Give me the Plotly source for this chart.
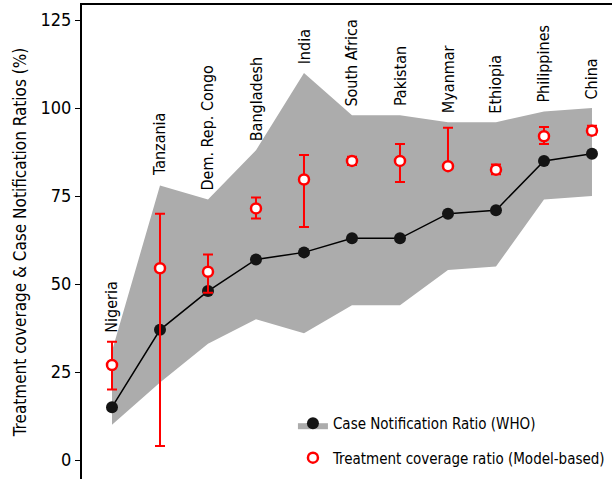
import plotly.graph_objects as go

countries = ["Nigeria", "Tanzania", "Dem. Rep. Congo", "Bangladesh", "India", "South Africa",
             "Pakistan", "Myanmar", "Ethiopia", "Philippines", "China"]
cnr = [15, 37, 48, 57, 59, 63, 63, 70, 71, 85, 87]
cnr_low = [10, 22, 33, 40, 36, 44, 44, 54, 55, 74, 75]
cnr_high = [31, 78, 74, 88, 110, 98, 98, 96, 96, 99, 100]
tc = [27, 54.5, 53.5, 71.5, 79.7, 85, 85, 83.5, 82.5, 92, 93.6]
tc_low = [20, 4, 47.5, 68.6, 66.2, 83.8, 79, 83.5, 81.2, 89.8, 92.5]
tc_high = [33.6, 70, 58.4, 74.6, 86.7, 86.2, 89.8, 94.4, 84, 94.6, 95]
yticks = [0, 25, 50, 75, 100, 125]

FONT = "DejaVu Sans Condensed, Liberation Sans Narrow, Roboto Condensed, Lato, sans-serif"
GRAY = "rgb(172,172,172)"
RED = "rgb(255,0,0)"

x = list(range(len(countries)))

fig = go.Figure()
fig.add_trace(go.Scatter(x=x, y=cnr_low, mode="lines", line=dict(width=0, color=GRAY),
                         showlegend=False, hoverinfo="skip"))
fig.add_trace(go.Scatter(x=x, y=cnr_high, mode="lines", line=dict(width=0, color=GRAY),
                         fill="tonexty", fillcolor=GRAY, showlegend=False, hoverinfo="skip"))
fig.add_trace(go.Scatter(x=x, y=cnr, mode="lines+markers",
                         line=dict(color="black", width=1.5),
                         marker=dict(color="rgb(20,20,20)", size=12),
                         showlegend=False))
# legend proxy for the CNR series
fig.add_trace(go.Scatter(x=[None, None, None], y=[None, None, None], mode="markers",
                         fill="toself", fillcolor=GRAY, line=dict(width=0, color=GRAY),
                         marker=dict(color="rgb(20,20,20)", size=12),
                         legendgroup="a", name="Case Notification Ratio (WHO)"))
fig.add_trace(go.Scatter(
    x=x, y=tc, mode="markers",
    marker=dict(color="white", size=10, line=dict(color=RED, width=2.5)),
    error_y=dict(type="data", symmetric=False,
                 array=[h - v for h, v in zip(tc_high, tc)],
                 arrayminus=[v - l for v, l in zip(tc, tc_low)],
                 color=RED, thickness=2, width=5),
    legendgroup="b", name="Treatment coverage ratio (Model-based)"))

for i, c in enumerate(countries):
    fig.add_annotation(x=x[i], y=max(cnr_high[i], tc_high[i]) + 2, text=c, textangle=-90,
                       showarrow=False, xanchor="center", yanchor="bottom",
                       font=dict(family=FONT, size=16, color="black"))

fig.update_layout(
    width=612, height=479,
    margin=dict(l=82, r=0, t=5, b=0, autoexpand=False),
    plot_bgcolor="white", paper_bgcolor="white",
    font=dict(family=FONT, size=16, color="black"),
    showlegend=True,
    legend=dict(x=0.398, y=0.152, xanchor="left", yanchor="top", traceorder="grouped",
                font=dict(family=FONT, size=15), bgcolor="rgba(0,0,0,0)",
                tracegroupgap=12),
    xaxis=dict(range=[-0.625, 10.417], showgrid=False, zeroline=False,
               showticklabels=False, ticks="", side="top",
               showline=True, linecolor="black", linewidth=2),
    yaxis=dict(range=[-5.4, 129.3], tickvals=yticks, showgrid=False, zeroline=False,
               showline=True, linecolor="black", linewidth=2,
               ticks="outside", ticklen=5, tickwidth=1, tickcolor="black",
               tickfont=dict(family=FONT, size=18),
               title=dict(text="Treatment coverage & Case Notification Ratios (%)",
                          font=dict(family=FONT, size=17), standoff=10)),
)

fig.write_html("out.html")
